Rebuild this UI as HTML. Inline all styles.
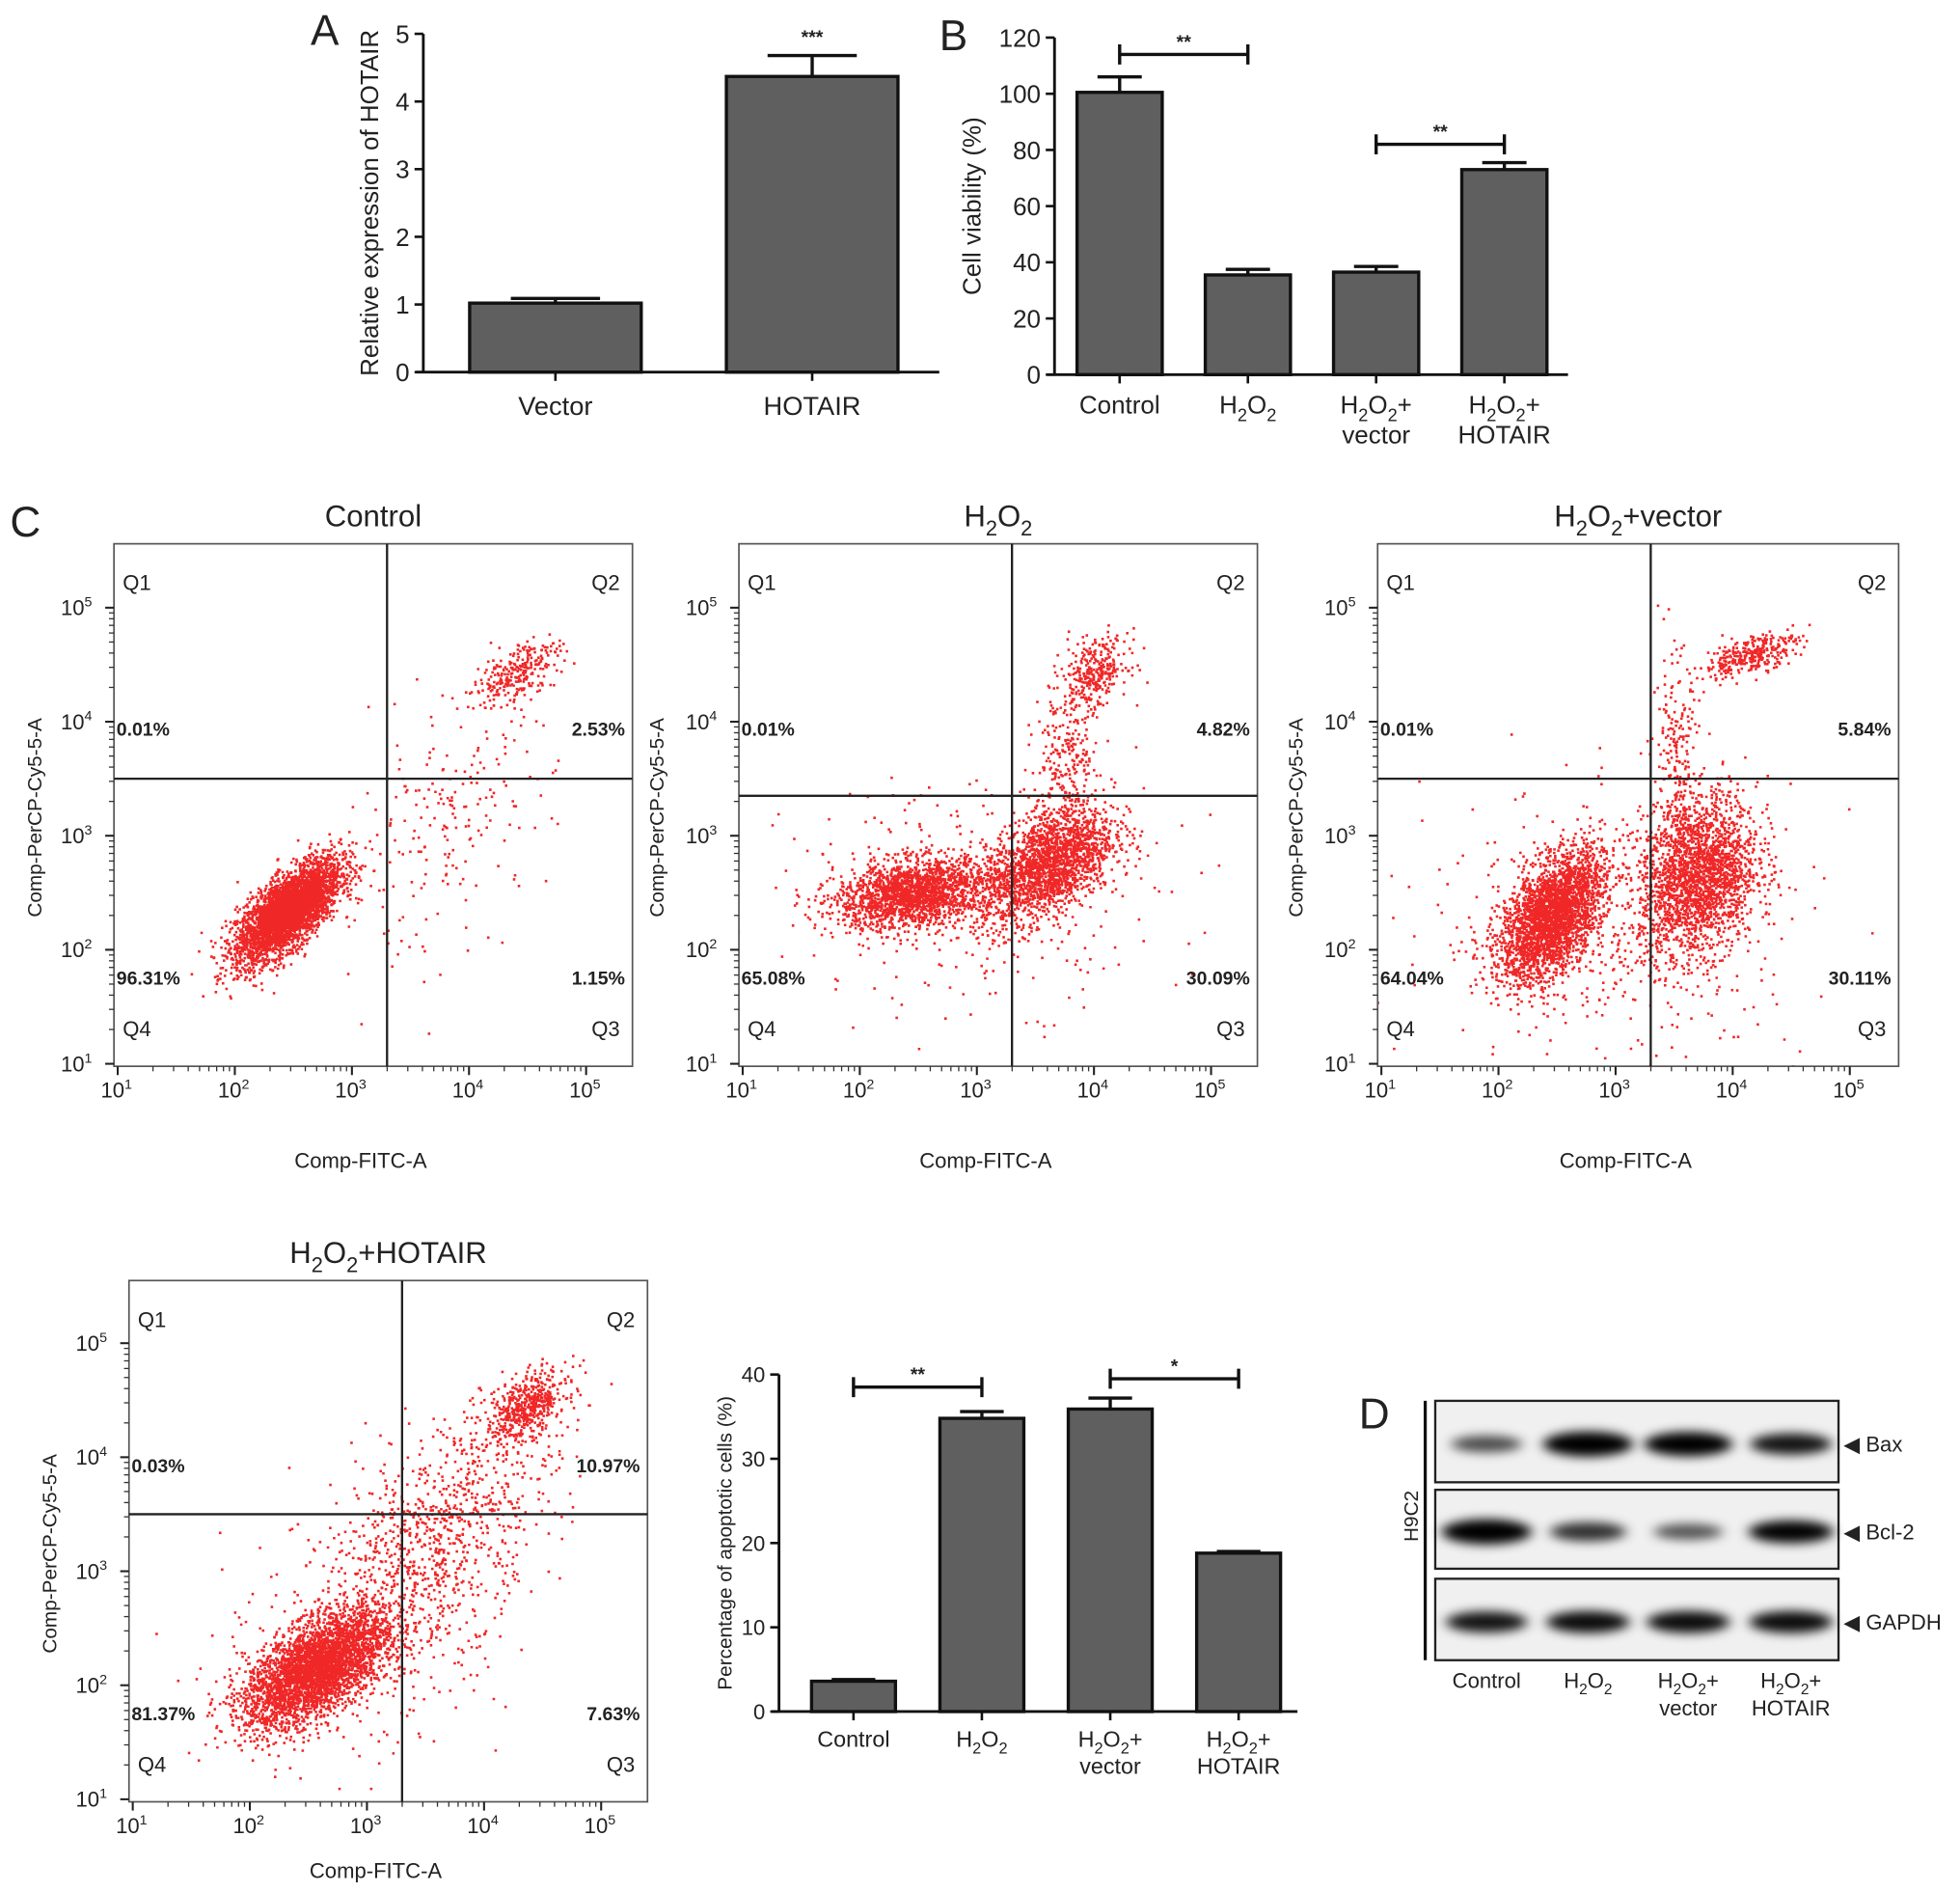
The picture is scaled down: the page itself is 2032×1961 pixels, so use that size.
<!DOCTYPE html>
<html><head><meta charset="utf-8"><style>
html,body{margin:0;padding:0;background:#fff}
svg{display:block}
text{font-family:"Liberation Sans",Arial,sans-serif;fill:#222}
</style></head><body>
<svg id="fig" width="2032" height="1961" viewBox="0 0 1565 1510" preserveAspectRatio="none" xmlns="http://www.w3.org/2000/svg">
<defs>
<filter id="blur" x="-30%" y="-100%" width="160%" height="300%"><feGaussianBlur stdDeviation="5 4"/></filter>
<clipPath id="c1"><rect x="91" y="434" width="414" height="417"/></clipPath>
<clipPath id="c2"><rect x="590" y="434" width="414" height="417"/></clipPath>
<clipPath id="c3"><rect x="1100" y="434" width="416" height="417"/></clipPath>
<clipPath id="c4"><rect x="103" y="1022" width="414" height="416"/></clipPath>
</defs>
<g id="root"></g>
</svg>
<script>
// ---------- DATA ----------
const aCategories = ["Vector", "HOTAIR"];
const aValues = [1.02, 4.37];
const aErrors = [1.09, 4.68];
const aTicks = [0, 1, 2, 3, 4, 5];

const bCategories = ["Control", "H_2O_2", "H_2O_2+|vector", "H_2O_2+|HOTAIR"];
const bValues = [100.5, 35.5, 36.5, 73];
const bErrors = [106, 37.5, 38.5, 75.5];
const bTicks = [0, 20, 40, 60, 80, 100, 120];

const apoCategories = ["Control", "H_2O_2", "H_2O_2+|vector", "H_2O_2+|HOTAIR"];
const apoValues = [3.6, 34.8, 35.9, 18.8];
const apoErrors = [3.8, 35.6, 37.2, 19.0];
const apoTicks = [0, 10, 20, 30, 40];

const flowTitles = ["Control", "H_2O_2", "H_2O_2+vector", "H_2O_2+HOTAIR"];
const flowQ1 = ["0.01%", "0.01%", "0.01%", "0.03%"];
const flowQ2 = ["2.53%", "4.82%", "5.84%", "10.97%"];
const flowQ3 = ["1.15%", "30.09%", "30.11%", "7.63%"];
const flowQ4 = ["96.31%", "65.08%", "64.04%", "81.37%"];
const flowGateX = [3.3, 3.3, 3.3, 3.3];   // log10 FITC gate
const flowGateY = [3.5, 3.35, 3.5, 3.5];  // log10 PerCP gate
// clusters: [cx, cy, sx, sy, rho, n] in log10 units
const clustersControl = [[2.45,2.35,0.22,0.22,0.7,3800],[4.4,4.45,0.18,0.15,0.6,260],[3.8,3.1,0.45,0.6,0.5,220]];
const clustersH2O2 = [[2.45,2.5,0.33,0.15,0.3,1900],[3.6,2.75,0.28,0.25,0.5,2000],[4.0,4.45,0.14,0.14,0.3,300],[3.75,3.6,0.14,0.45,0.3,300],[3.0,2.5,0.8,0.5,0,300]];
const clustersVector = [[2.45,2.3,0.22,0.28,0.5,2900],[3.7,2.65,0.25,0.35,0.2,2200],[4.15,4.6,0.2,0.1,0.6,320],[3.5,3.6,0.1,0.5,0,220],[3.0,2.2,0.8,0.6,0,400]];
const clustersHotair = [[2.55,2.15,0.3,0.25,0.6,3500],[4.35,4.45,0.17,0.15,0.5,500],[3.6,3.3,0.5,0.6,0.6,900],[3.0,2.5,0.6,0.6,0.3,400]];
const flowClusters = [clustersControl, clustersH2O2, clustersVector, clustersHotair];

const blotRows = ["Bax", "Bcl-2", "GAPDH"];
const blotBax = [0.45, 1.0, 0.95, 0.75];
const blotBcl2 = [1.0, 0.6, 0.4, 0.85];
const blotGapdh = [0.75, 0.8, 0.8, 0.8];
const blotLanes = ["Control", "H_2O_2", "H_2O_2+|vector", "H_2O_2+|HOTAIR"];

// ---------- HELPERS ----------
const NS = "http://www.w3.org/2000/svg";
const root = document.getElementById("root");
function mk(tag, attrs, parent) {
  const e = document.createElementNS(NS, tag);
  for (const k in attrs) e.setAttribute(k, attrs[k]);
  (parent || root).appendChild(e);
  return e;
}
function chemText(str, x, y, size, anchor, parent) {
  const t = mk("text", {x: x, y: y, "font-size": size, "text-anchor": anchor || "middle"}, parent);
  const parts = str.split("_");
  parts.forEach((p, i) => {
    if (i === 0) { if (p) { const s = mk("tspan", {}, t); s.textContent = p; } return; }
    const sub = mk("tspan", {dy: size * 0.3, "font-size": size * 0.7}, t);
    sub.textContent = p[0];
    const rest = p.slice(1);
    const s = mk("tspan", {dy: -size * 0.3}, t); s.textContent = rest;
  });
  return t;
}
function multiLabel(str, x, y, size, lh, parent) {
  const g = mk("g", {}, parent);
  str.split("|").forEach((line, i) => chemText(line, x, y + i * lh, size, "middle", g));
  return g;
}

// ---------- BAR CHART ----------
function barChart(o) {
  const g = mk("g", {});
  
  
  const ys = v => o.yBot - (v / o.max) * (o.yBot - o.yTop);
  const xl = i => o.axisX + o.offset + i * o.pitch;
  const ya = mk("line", {x1: o.axisX, y1: o.yTop, x2: o.axisX, y2: o.yBot, stroke: "#111", "stroke-width": 2.2}, g);
  
  
  const xa = mk("line", {x1: o.axisX - 6, y1: o.yBot, x2: o.xEnd, y2: o.yBot, stroke: "#111", "stroke-width": 2.2}, g);
  
  
  o.ticks.forEach(t => {
    mk("line", {x1: o.axisX - 7, y1: ys(t), x2: o.axisX, y2: ys(t), stroke: "#111", "stroke-width": 2}, g);
    const tl = mk("text", {x: o.axisX - 11, y: ys(t) + o.tickSize * 0.36, "font-size": o.tickSize, "text-anchor": "end"}, g);
    
    
    tl.textContent = t;
  });
  o.values.forEach((v, i) => {
    const x = xl(i), cx = x + o.bw / 2;
    const b = mk("rect", {x: x, y: ys(v), width: o.bw, height: o.yBot - ys(v), fill: "#5f5f5f", stroke: "#111", "stroke-width": 2.6}, g);
    
    
    const ey = ys(o.errors[i]);
    const cw = o.bw * 0.26;
    const e1 = mk("path", {d: `M${cx},${ys(v)}V${ey}M${cx - cw},${ey}H${cx + cw}`, stroke: "#111", "stroke-width": 2.6, fill: "none"}, g);
    
    
    mk("line", {x1: cx, y1: o.yBot, x2: cx, y2: o.yBot + 7, stroke: "#111", "stroke-width": 2}, g);
    const lab = multiLabel(o.categories[i], cx, o.yBot + o.labelDy, o.labelSize, o.labelSize * 1.2, g);
    
    
  });
  (o.brackets || []).forEach(br => {
    const x1 = xl(br[0]) + o.bw / 2, x2 = xl(br[1]) + o.bw / 2, y = ys(br[2]);
    const p = mk("path", {d: `M${x1},${y - 8}V${y + 8}M${x1},${y}H${x2}M${x2},${y - 8}V${y + 8}`, stroke: "#111", "stroke-width": 2.6, fill: "none"}, g);
    
    
    const s = mk("text", {x: (x1 + x2) / 2, y: y - 5, "font-size": 15, "text-anchor": "middle", "font-weight": "bold"}, g);
    
    
    s.textContent = br[3];
  });
  (o.stars || []).forEach(st => {
    const cx = xl(st[0]) + o.bw / 2;
    const s = mk("text", {x: cx, y: ys(st[1]), "font-size": 15, "text-anchor": "middle", "font-weight": "bold"}, g);
    
    
    s.textContent = st[2];
  });
  const yt = mk("text", {transform: `translate(${o.yLabelX},${(o.yTop + o.yBot) / 2}) rotate(-90)`, "font-size": o.yLabelSize, "text-anchor": "middle"}, g);
  
  
  yt.textContent = o.yLabel;
  return g;
}

barChart({name: "chart-a-hotair-expression", axisX: 338, xEnd: 750, yTop: 27, yBot: 297, max: 5, ticks: aTicks,
  values: aValues, errors: aErrors, categories: aCategories, offset: 37, pitch: 205, bw: 137,
  tickSize: 20, labelSize: 21, labelDy: 34, yLabel: "Relative expression of HOTAIR", yLabelX: 302, yLabelSize: 20,
  stars: [[1, 4.86, "***"]]});
barChart({name: "chart-b-cell-viability", axisX: 842, xEnd: 1252, yTop: 30, yBot: 299, max: 120, ticks: bTicks,
  values: bValues, errors: bErrors, categories: bCategories, offset: 18, pitch: 102.4, bw: 68,
  tickSize: 20, labelSize: 20, labelDy: 31, yLabel: "Cell viability (%)", yLabelX: 783, yLabelSize: 20,
  brackets: [[0, 1, 114, "**"], [2, 3, 82, "**"]]});
barChart({name: "chart-apoptotic-percentage", axisX: 622, xEnd: 1036, yTop: 1097, yBot: 1366, max: 40, ticks: apoTicks,
  values: apoValues, errors: apoErrors, categories: apoCategories, offset: 26, pitch: 102.5, bw: 67,
  tickSize: 17, labelSize: 18, labelDy: 28, yLabel: "Percentage of apoptotic cells (%)", yLabelX: 584, yLabelSize: 16,
  brackets: [[0, 1, 38.5, "**"], [2, 3, 39.5, "*"]]});

[["A", 248, 36], ["B", 750, 40], ["C", 8, 428], ["D", 1085, 1140]].forEach(l => {
  const t = mk("text", {x: l[1], y: l[2], "font-size": 34});
  
  
  t.textContent = l[0];
});

// ---------- FLOW PLOTS ----------
const flowBoxes = [
  {L: 91, R: 505, T: 434, B: 851, clip: "c1", yl: 33},
  {L: 590, R: 1004, T: 434, B: 851, clip: "c2", yl: 530},
  {L: 1100, R: 1516, T: 434, B: 851, clip: "c3", yl: 1040},
  {L: 103, R: 517, T: 1022, B: 1438, clip: "c4", yl: 45}
];
let seed = 12345;
function rnd() { seed = (seed * 1103515245 + 12345) % 2147483648; return seed / 2147483648; }
function gauss() { let u = rnd() || 1e-9, v = rnd(); return Math.sqrt(-2 * Math.log(u)) * Math.cos(2 * Math.PI * v); }

flowBoxes.forEach((bx, p) => {
  const g = mk("g", {});
  
  
  const x10 = bx.L + 3, dx = 93.5, y10 = bx.B - 2, dy = 91;
  const xs = l => x10 + (l - 1) * dx;
  const ys = l => y10 - (l - 1) * dy;
  const pg = mk("g", {"clip-path": `url(#${bx.clip})`, fill: "#ee1010"}, g);
  
  
  let d = "";
  flowClusters[p].forEach(c => {
    for (let i = 0; i < c[5]; i++) {
      const z1 = gauss(), z2 = gauss();
      const lx = c[0] + c[2] * z1;
      const ly = c[1] + c[3] * (c[4] * z1 + Math.sqrt(1 - c[4] * c[4]) * z2);
      const px = xs(lx), py = ys(ly);
      d += `M${px.toFixed(1)},${py.toFixed(1)}h2v2h-2z`;
    }
  });
  mk("path", {d: d, "fill-opacity": 0.9}, pg);
  const box = mk("rect", {x: bx.L, y: bx.T, width: bx.R - bx.L, height: bx.B - bx.T, fill: "none", stroke: "#555", "stroke-width": 1.3}, g);
  
  
  const gx = xs(flowGateX[p]), gy = ys(flowGateY[p]);
  const gl = mk("path", {d: `M${gx},${bx.T}V${bx.B}M${bx.L},${gy}H${bx.R}`, stroke: "#222", "stroke-width": 1.8}, g);
  
  
  for (let k = 1; k <= 5; k++) {
    mk("line", {x1: xs(k), y1: bx.B, x2: xs(k), y2: bx.B + 7, stroke: "#222", "stroke-width": 1.6}, g);
    mk("line", {x1: bx.L - 7, y1: ys(k), x2: bx.L, y2: ys(k), stroke: "#222", "stroke-width": 1.6}, g);
    const tx = mk("text", {x: xs(k) - 1, y: bx.B + 25, "font-size": 17, "text-anchor": "middle"}, g);
    
    
    tx.innerHTML = `10<tspan dy="-7" font-size="11">${k}</tspan>`;
    const ty = mk("text", {x: bx.L - 30, y: ys(k) + 6, "font-size": 17, "text-anchor": "middle"}, g);
    
    
    ty.innerHTML = `10<tspan dy="-7" font-size="11">${k}</tspan>`;
    if (k < 5) for (let m = 2; m <= 9; m++) {
      const lm = k + Math.log10(m);
      mk("line", {x1: xs(lm), y1: bx.B, x2: xs(lm), y2: bx.B + 4, stroke: "#333", "stroke-width": 1}, g);
      mk("line", {x1: bx.L - 4, y1: ys(lm), x2: bx.L, y2: ys(lm), stroke: "#333", "stroke-width": 1}, g);
    }
  }
  const tt = chemText(flowTitles[p], (bx.L + bx.R) / 2, bx.T - 14, 24, "middle", g);
  
  
  const xt = mk("text", {x: (bx.L + bx.R) / 2 - 10, y: bx.B + 81 - (p === 3 ? 20 : 0), "font-size": 17, "text-anchor": "middle"}, g);
  
  
  xt.textContent = "Comp-FITC-A";
  const yt = mk("text", {transform: `translate(${bx.yl},${(bx.T + bx.B) / 2 + 10}) rotate(-90)`, "font-size": 16, "text-anchor": "middle"}, g);
  
  
  yt.textContent = "Comp-PerCP-Cy5-5-A";
  [["Q1", bx.L + 7, bx.T + 37, "start"], ["Q2", bx.R - 10, bx.T + 37, "end"], ["Q4", bx.L + 7, bx.B - 24, "start"], ["Q3", bx.R - 10, bx.B - 24, "end"]].forEach(q => {
    const t = mk("text", {x: q[1], y: q[2], "font-size": 17, "text-anchor": q[3], fill: "#333"}, g);
    
    
    t.textContent = q[0];
  });
  const pyTop = bx.T + 153, pyBot = bx.B - 65;
  [[flowQ1[p], bx.L + 2, pyTop, "start"], [flowQ2[p], bx.R - 6, pyTop, "end"], [flowQ4[p], bx.L + 2, pyBot, "start"], [flowQ3[p], bx.R - 6, pyBot, "end"]].forEach(q => {
    const t = mk("text", {x: q[1], y: q[2], "font-size": 15, "font-weight": "bold", "text-anchor": q[3], fill: "#333"}, g);
    
    
    t.textContent = q[0];
  });
});

// ---------- WESTERN BLOT ----------
(function () {
  const g = mk("g", {});
  
  
  const rows = [[1118, 1183, blotBax], [1189, 1252, blotBcl2], [1260, 1325, blotGapdh]];
  const lanes = [1187, 1268, 1348, 1430];
  rows.forEach((r, ri) => {
    const bg = mk("rect", {x: 1146, y: r[0], width: 322, height: r[1] - r[0], fill: "#f0f0f0", stroke: "#222", "stroke-width": 1.8}, g);
    
    
    const cy = (r[0] + r[1]) / 2 + 2;
    r[2].forEach((v, li) => {
      const e = mk("ellipse", {cx: lanes[li], cy: cy, rx: 22 + 14 * v, ry: 4 + 6 * v, fill: "#000", "fill-opacity": Math.min(1, 0.35 + 0.75 * v), filter: "url(#blur)"}, g);
      
      
    });
    const lab = mk("text", {x: 1472, y: cy + 6, "font-size": 17}, g);
    
    
    lab.textContent = "\u25C0 " + blotRows[ri];
  });
  mk("line", {x1: 1138, y1: 1118, x2: 1138, y2: 1325, stroke: "#111", "stroke-width": 2.5}, g);
  const h = mk("text", {transform: "translate(1132,1210) rotate(-90)", "font-size": 16, "text-anchor": "middle"}, g);
  
  
  h.textContent = "H9C2";
  blotLanes.forEach((s, i) => {
    const l = multiLabel(s, lanes[i], 1347, 17, 22, g);
    
    
  });
})();
</script>
</body></html>
